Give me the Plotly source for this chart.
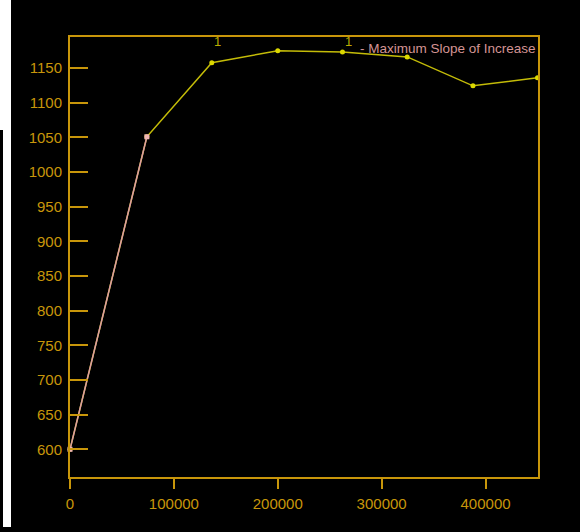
import plotly.graph_objects as go

# Measured series
x_vals = [0, 74000, 136500, 200000, 262300, 324600, 387900, 450000]
y_vals = [600, 1051, 1158, 1175.2, 1173.4, 1166.3, 1124.5, 1136.1]

# Steepest-rise segment (first two samples)
slope_x = x_vals[:2]
slope_y = y_vals[:2]

# Small markers printed along the top edge
flag_x = [136500, 262300]
flag_text = ["1", "1"]

x_ticks = [0, 100000, 200000, 300000, 400000]
y_ticks = [600, 650, 700, 750, 800, 850, 900, 950, 1000, 1050, 1100, 1150]

W, H = 580, 532
ML, MR, MT, MB = 70, 42, 37, 55
PW, PH = W - ML - MR, H - MT - MB

GOLD = "#c8960a"
YEL_LINE = "#c4bc08"
YEL_MARK = "#dcd800"
PINK = "#dc9ca4"
PINK_TXT = "#d49494"
FONT = "Liberation Sans, Arial, sans-serif"


def px_x(p):
    return (p - ML) / PW


def px_y(p):
    return (H - MB - p) / PH


fig = go.Figure()

fig.add_trace(go.Scatter(
    x=x_vals, y=y_vals, mode="lines+markers",
    line=dict(color=YEL_LINE, width=1.5),
    marker=dict(color=YEL_MARK, size=5, symbol="circle"),
    showlegend=False, cliponaxis=False,
))
fig.add_trace(go.Scatter(
    x=slope_x, y=slope_y, mode="lines+markers",
    line=dict(color=PINK, width=1.5),
    marker=dict(color="#f0b4b4", size=5, symbol="square"),
    showlegend=False, cliponaxis=False,
))

annotations = []
for fx, ft in zip(flag_x, flag_text):
    annotations.append(dict(
        x=fx, xref="x", y=px_y(42), yref="paper", text=ft, showarrow=False,
        xanchor="center", yanchor="middle", xshift=6,
        font=dict(family=FONT, size=13, color="#bcac00"),
    ))
annotations.append(dict(
    x=1, xref="paper", y=px_y(49), yref="paper",
    text="- Maximum Slope of Increase", showarrow=False,
    xanchor="right", yanchor="middle",
    font=dict(family=FONT, size=13.5, color=PINK_TXT),
))

shapes = [
    # y axis line continues below the frame
    dict(type="line", xref="paper", yref="paper",
         x0=0, x1=0, y0=0, y1=px_y(487), line=dict(color=GOLD, width=2)),
    # white strip on the left edge of the page
    dict(type="rect", xref="paper", yref="paper", layer="above",
         x0=px_x(0), x1=px_x(11), y0=px_y(130), y1=px_y(0),
         fillcolor="white", line=dict(width=0)),
    dict(type="rect", xref="paper", yref="paper", layer="above",
         x0=px_x(3), x1=px_x(11), y0=px_y(527), y1=px_y(130),
         fillcolor="white", line=dict(width=0)),
]

fig.update_layout(
    width=W, height=H,
    margin=dict(l=ML, r=MR, t=MT, b=MB, pad=0),
    paper_bgcolor="black", plot_bgcolor="black",
    font=dict(family=FONT, size=15, color=GOLD),
    annotations=annotations, shapes=shapes,
    xaxis=dict(
        range=[0, 450500], tickvals=x_ticks, ticktext=[str(v) for v in x_ticks],
        showgrid=False, zeroline=False,
        showline=True, linecolor=GOLD, linewidth=2, mirror=True,
        ticks="outside", ticklen=10, tickwidth=2, tickcolor=GOLD,
        tickfont=dict(family=FONT, size=15, color=GOLD),
        ticklabelstandoff=2,
    ),
    xaxis2=dict(
        overlaying="x", matches="x", range=[0, 450500], tickvals=x_ticks,
        showticklabels=False, showgrid=False, zeroline=False, showline=False,
        ticks="inside", ticklen=10, tickwidth=2, tickcolor=GOLD,
    ),
    yaxis=dict(
        range=[560, 1195], tickvals=y_ticks,
        showgrid=False, zeroline=False,
        showline=True, linecolor=GOLD, linewidth=2, mirror=True,
        ticks="inside", ticklen=18, tickwidth=2, tickcolor=GOLD,
        tickfont=dict(family=FONT, size=15, color=GOLD),
        ticklabelstandoff=3,
    ),
)

fig.write_html("out.html")
